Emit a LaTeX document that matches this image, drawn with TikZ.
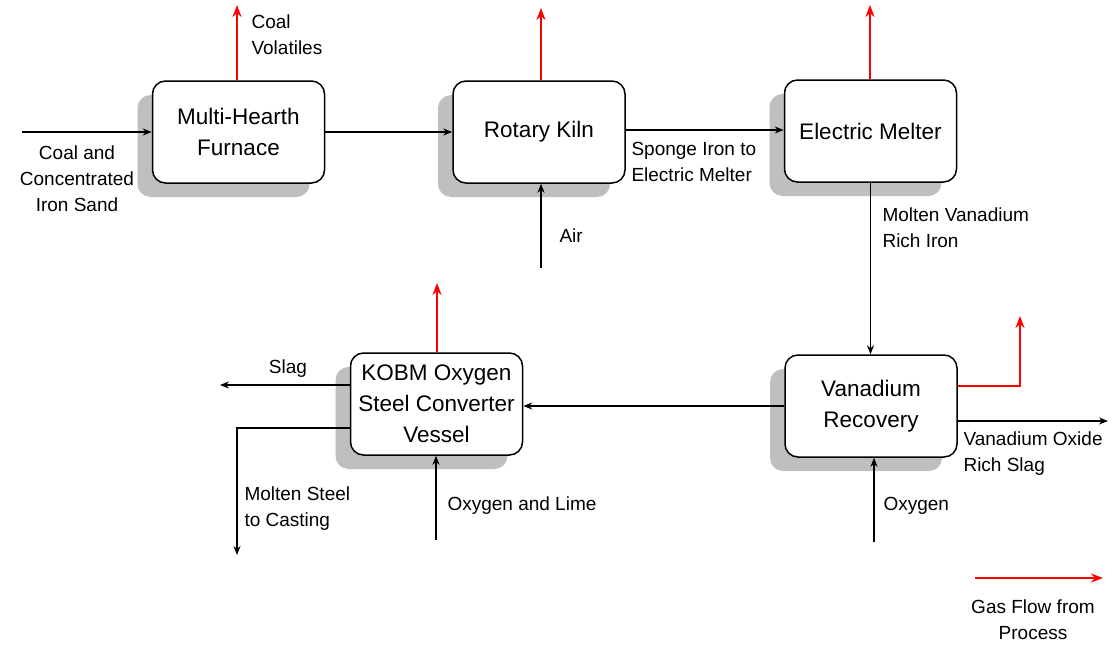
\documentclass[tikz,border=0pt]{standalone}
\usepackage{fontspec}
\setmainfont{Liberation Sans}
\usetikzlibrary{arrows.meta, shadows}

\begin{document}
\begin{tikzpicture}[x=1pt, y=-1pt,
    unit/.style={draw, line width=1.5pt, fill=white, rounded corners=13pt,
        minimum width=172pt, minimum height=102pt, align=center,
        font=\fontsize{22.5}{31}\selectfont,
        drop shadow={shadow xshift=-15pt, shadow yshift=-14pt, fill=gray!50, opacity=1}},
    flow/.style={line width=1.8pt, -{Stealth[length=9pt, width=7pt]}},
    gas/.style={red, line width=2.4pt, -{Stealth[length=12pt, width=9pt]}},
    lbl/.style={font=\fontsize{19}{26}\selectfont, align=left}]
    \useasboundingbox (0,0) rectangle (1112,648);

    \node[unit] (mhf) at (238.5,132) {Multi-Hearth\\Furnace};
    \node[unit] (kiln) at (539,132) {Rotary Kiln};
    \node[unit] (melter) at (870.5,131) {Electric Melter};
    \node[unit] (vrec) at (871,406) {Vanadium\\Recovery};
    \node[unit] (kobm) at (436.5,404) {KOBM Oxygen\\Steel Converter\\Vessel};

    \coordinate (feed) at (22,132);
    \coordinate (air) at (541,268);
    \coordinate (oxy) at (874,542);
    \coordinate (olime) at (436,540);
    \coordinate (voxide) at (1108,421);
    \coordinate (kout) at (625,130);
    \coordinate (vslag) at ([yshift=-15pt]vrec.east);
    \coordinate (vout) at ([yshift=20pt]vrec.east);
    \coordinate (vgas) at (1020,316);
    \coordinate (kslag) at ([yshift=19pt]kobm.west);
    \coordinate (ksteel) at ([yshift=-24pt]kobm.west);
    \coordinate (slagout) at (220,385);
    \coordinate (steelout) at (237,555);
    \coordinate (mhfgas) at (237,5);
    \coordinate (kilngas) at (541,8);
    \coordinate (meltgas) at (870,5);
    \coordinate (kobmgas) at (437,283);
    \coordinate (leg1) at (975,578);
    \coordinate (leg2) at (1103,578);

    \draw[flow] (feed) -- (feed -| mhf.west);
    \draw[flow] (mhf.east) -- (mhf.east -| kiln.west);
    \draw[flow] (kout -| kiln.east) -- (kout -| melter.west);
    \draw[flow] (air) -- (air |- kiln.south);
    \draw[flow] (melter.south) -- (melter.south |- vrec.north);
    \draw[flow] (vrec.west) -- (vrec.west -| kobm.east);
    \draw[flow] (vslag) -- (vslag -| voxide);
    \draw[flow] (oxy) -- (oxy |- vrec.south);
    \draw[flow] (olime) -- (olime |- kobm.south);
    \draw[flow] (kslag) -- (kslag -| slagout);
    \draw[flow] (ksteel) -| (steelout);

    \draw[gas] (mhf.north -| mhfgas) -- (mhfgas);
    \draw[gas] (kiln.north -| kilngas) -- (kilngas);
    \draw[gas] (melter.north -| meltgas) -- (meltgas);
    \draw[gas] (kobm.north -| kobmgas) -- (kobmgas);
    \draw[gas] (vout) -| (vgas);
    \draw[gas] (leg1) -- (leg2);

    \node[lbl, anchor=west] (volat) at (248,35) {Coal\\Volatiles};
    \node[lbl, align=center] (feedlbl) at (77,179) {Coal and\\Concentrated\\Iron Sand};
    \node[lbl, anchor=west] (sponge) at (628,162) {Sponge Iron to\\Electric Melter};
    \node[lbl, anchor=west] (airlbl) at (556,236) {Air};
    \node[lbl, anchor=west] (vrich) at (879,228) {Molten Vanadium\\Rich Iron};
    \node[lbl, anchor=west] (voxlbl) at (960,454) {Vanadium Oxide\\Rich Slag};
    \node[lbl, anchor=west] (oxylbl) at (880,506) {Oxygen};
    \node[lbl, anchor=west] (olimelbl) at (444,506) {Oxygen and Lime};
    \node[lbl] (slaglbl) at (288,369) {Slag};
    \node[lbl, anchor=west] (steellbl) at (241,509) {Molten Steel\\to Casting};
    \node[lbl, align=center] (legend) at (1033,620) {Gas Flow from\\Process};
\end{tikzpicture}
\end{document}
